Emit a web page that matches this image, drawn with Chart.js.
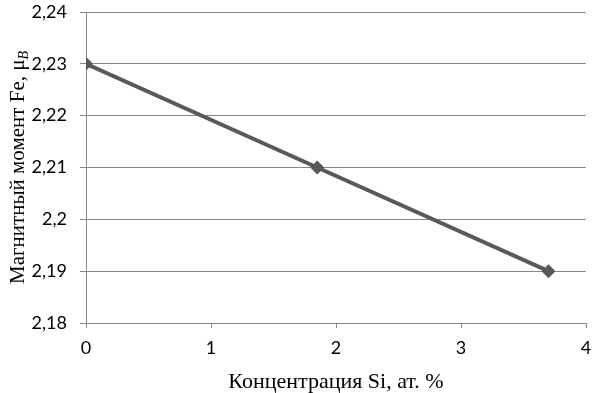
<!DOCTYPE html>
<html>
<head>
<meta charset="utf-8">
<script src="https://cdn.jsdelivr.net/npm/chart.js@4/dist/chart.umd.min.js"></script>
<style>
html,body{margin:0;padding:0;background:#fff;}
#wrap{width:595px;height:393px;position:relative;}
</style>
</head>
<body>
<div id="wrap"><canvas id="c" width="595" height="393"></canvas></div>
<script>
const concentrationSi = [0, 1.85, 3.7];
const magneticMoment = [2.23, 2.21, 2.19];
const xTicks = [0, 1, 2, 3, 4];
const yTicks = [2.18, 2.19, 2.2, 2.21, 2.22, 2.23, 2.24];
const xTitle = 'Концентрация Si, ат. %';
const yTitleMain = 'Магнитный момент Fe, μ';
const yTitleSub = 'B';

const fmt = v => Number(v.toFixed(2)).toString().replace('.', ',');

const titlePlugin = {
  id: 'titles',
  afterDraw(chart) {
    const {ctx, chartArea} = chart;
    ctx.save();
    ctx.fillStyle = '#000';
    // x title
    ctx.font = '22px "Liberation Serif", "DejaVu Serif", serif';
    ctx.textAlign = 'center';
    ctx.textBaseline = 'middle';
    ctx.fillText(xTitle, (chartArea.left + chartArea.right) / 2, 382);
    // y title rotated with subscript
    const cy = (chartArea.top + chartArea.bottom) / 2;
    ctx.translate(17, cy);
    ctx.rotate(-Math.PI / 2);
    const mainFont = '21px "Liberation Serif", "DejaVu Serif", serif';
    const subFont = 'italic 14px "Liberation Serif", "DejaVu Serif", serif';
    ctx.font = mainFont;
    const w1 = ctx.measureText(yTitleMain).width;
    ctx.font = subFont;
    const w2 = ctx.measureText(yTitleSub).width;
    const start = -(w1 + w2) / 2;
    ctx.textAlign = 'left';
    ctx.textBaseline = 'alphabetic';
    ctx.font = mainFont;
    ctx.fillText(yTitleMain, start, 7);
    ctx.font = subFont;
    ctx.fillText(yTitleSub, start + w1, 11);
    ctx.restore();
  }
};

new Chart(document.getElementById('c'), {
  type: 'line',
  data: {
    datasets: [{
      data: concentrationSi.map((x, i) => ({x: x, y: magneticMoment[i]})),
      borderColor: '#595959',
      backgroundColor: '#595959',
      borderWidth: 4,
      pointStyle: 'rectRot',
      pointRadius: 7,
      pointHoverRadius: 7,
      pointBorderWidth: 0,
      tension: 0,
      fill: false
    }]
  },
  options: {
    responsive: false,
    animation: false,
    devicePixelRatio: 1,
    layout: {padding: {top: 0, right: 0, left: 0, bottom: 0}},
    plugins: {legend: {display: false}, tooltip: {enabled: false}},
    scales: {
      x: {
        type: 'linear',
        min: 0, max: 4,
        afterBuildTicks: s => { s.ticks = xTicks.map(v => ({value: v})); },
        afterFit: s => { s.height = 70; s.paddingRight = 9; },
        border: {display: true, color: '#888', width: 1},
        grid: {display: true, color: 'rgba(0,0,0,0)', tickColor: '#888', tickLength: 5, drawOnChartArea: false},
        ticks: {
          color: '#000',
          padding: 9,
          font: {family: 'Lato, "Open Sans", sans-serif', size: 18},
          callback: v => fmt(v)
        }
      },
      y: {
        type: 'linear',
        min: 2.18, max: 2.24,
        afterBuildTicks: s => { s.ticks = yTicks.map(v => ({value: v})); },
        afterFit: s => { s.width = 86; s.paddingTop = 12; s.paddingBottom = 0; },
        border: {display: true, color: '#888', width: 1},
        grid: {color: '#888', tickColor: '#888', tickLength: 6, lineWidth: 1},
        ticks: {
          color: '#000',
          padding: 13,
          font: {family: 'Lato, "Open Sans", sans-serif', size: 18},
          callback: v => fmt(v)
        }
      }
    }
  },
  plugins: [titlePlugin]
});
</script>
</body>
</html>
